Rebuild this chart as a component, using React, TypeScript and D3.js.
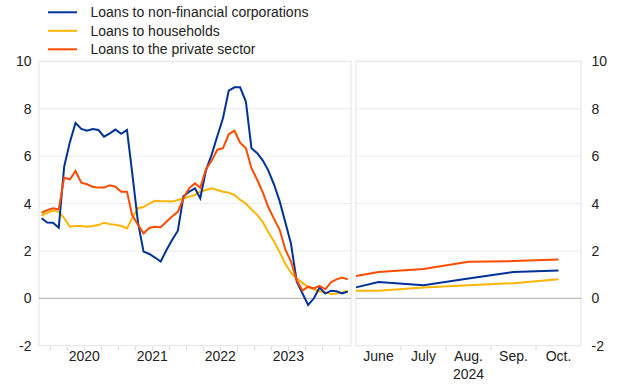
import { useEffect, useRef } from "react";
import * as d3 from "d3";

const W = 620;
const H = 387;

// monthly observations, Nov 2019 - May 2024
const months = d3.timeMonths(new Date(2019, 10, 1), new Date(2024, 5, 1));
const nfc = [
  3.38, 3.2, 3.19, 2.98, 5.55, 6.6, 7.4, 7.15, 7.07, 7.14,
  7.1, 6.82, 6.96, 7.12, 6.94, 7.1, 5.3, 3.2, 1.97, 1.87,
  1.72, 1.55, 2.04, 2.46, 2.85, 4.3, 4.5, 4.64, 4.22, 5.4,
  6.05, 6.85, 7.6, 8.76, 8.9, 8.9, 8.3, 6.33, 6.12, 5.8,
  5.4, 4.8, 4.1, 3.2, 2.3, 0.7, 0.2, -0.28, 0.0, 0.45,
  0.2, 0.32, 0.3, 0.21, 0.28,
];
const households = [
  3.49, 3.61, 3.7, 3.65, 3.38, 3.02, 3.05, 3.05, 3.02, 3.05,
  3.09, 3.19, 3.13, 3.1, 3.05, 2.95, 3.38, 3.8, 3.85, 4.0,
  4.12, 4.1, 4.1, 4.08, 4.15, 4.22, 4.29, 4.36, 4.5, 4.57,
  4.64, 4.57, 4.5, 4.46, 4.36, 4.15, 4.0, 3.75, 3.52, 3.2,
  2.8, 2.4, 1.95, 1.45, 1.08, 0.82, 0.65, 0.47, 0.38, 0.3,
  0.25, 0.18, 0.2, 0.25, 0.32,
];
const privateSector = [
  3.61, 3.72, 3.8, 3.75, 5.09, 5.02, 5.37, 4.88, 4.81, 4.71,
  4.67, 4.67, 4.77, 4.71, 4.5, 4.5, 3.5, 3.1, 2.74, 2.97,
  3.02, 3.0, 3.23, 3.45, 3.65, 4.22, 4.65, 4.85, 4.66, 5.45,
  5.8, 6.27, 6.33, 6.92, 7.07, 6.57, 6.33, 5.49, 4.99, 4.45,
  3.85, 3.35, 2.9, 2.05, 1.55, 0.75, 0.33, 0.49, 0.42, 0.52,
  0.38, 0.68, 0.8, 0.88, 0.8,
];

// 2024 panel: month number (first point = end of May)
const recentMonths = [5.5, 6, 7, 8, 9, 10];
const recentNfc = [0.46, 0.69, 0.55, 0.84, 1.11, 1.17];
const recentHouseholds = [0.32, 0.32, 0.46, 0.55, 0.64, 0.8];
const recentPrivate = [0.94, 1.11, 1.24, 1.54, 1.57, 1.64];
const recentLabels = ["June", "July", "Aug.", "Sep.", "Oct."];
const recentLabelMonths = [6, 7, 8, 9, 10];

const yTicks = [-2, 0, 2, 4, 6, 8, 10];
const yearLabels = [2020, 2021, 2022, 2023];

const seriesNames = [
  "Loans to non-financial corporations",
  "Loans to households",
  "Loans to the private sector",
];
const colors = ["#003299", "#ffb400", "#ff4b00"];

const FONT = "'Liberation Sans', Arial, sans-serif";

export default function App() {
  const svgRef = useRef<SVGSVGElement>(null);

  useEffect(() => {
    if (!svgRef.current) return;
    const svg = d3.select(svgRef.current);
    svg.selectAll("*").remove();

    const top = 61.3;
    const bottom = 345.7;
    const y = d3.scaleLinear().domain([-2, 10]).range([bottom, top]);

    const x1 = d3
      .scaleTime()
      .domain([new Date(2019, 10, 1), new Date(2024, 5, 1)])
      .range([39, 351]);
    const x2 = d3.scaleLinear().domain([5.5, 10.5]).range([356, 581]);

    const panels = [
      { l: 39, r: 351 },
      { l: 356, r: 581 },
    ];

    panels.forEach((p) => {
      const g = svg.append("g");
      g.selectAll(".grid")
        .data(yTicks.filter((t) => t !== 0 && t !== 10 && t !== -2))
        .enter()
        .append("line")
        .attr("x1", p.l)
        .attr("x2", p.r)
        .attr("y1", (d) => y(d))
        .attr("y2", (d) => y(d))
        .attr("stroke", "#ebebeb")
        .attr("stroke-width", 1);
      g.append("rect")
        .attr("x", p.l)
        .attr("y", top)
        .attr("width", p.r - p.l)
        .attr("height", bottom - top)
        .attr("fill", "none")
        .attr("stroke", "#e3e3e3")
        .attr("stroke-width", 1);
      g.append("line")
        .attr("x1", p.l)
        .attr("x2", p.r)
        .attr("y1", y(0))
        .attr("y2", y(0))
        .attr("stroke", "#aaaaaa")
        .attr("stroke-width", 1);
    });

    // x ticks
    const qTicks = d3.timeMonths(new Date(2020, 0, 1), new Date(2024, 5, 1), 3);
    svg
      .selectAll(".qtick")
      .data(qTicks)
      .enter()
      .append("line")
      .attr("x1", (d) => x1(d))
      .attr("x2", (d) => x1(d))
      .attr("y1", bottom + 1)
      .attr("y2", bottom + 5)
      .attr("stroke", "#d6d6d6");
    svg
      .selectAll(".mtick")
      .data([6.5, 7.5, 8.5, 9.5])
      .enter()
      .append("line")
      .attr("x1", (d) => x2(d))
      .attr("x2", (d) => x2(d))
      .attr("y1", bottom + 1)
      .attr("y2", bottom + 5)
      .attr("stroke", "#d6d6d6");

    const text = (sel: any) =>
      sel.attr("font-family", FONT).attr("font-size", 14).attr("fill", "#222");

    svg
      .selectAll(".year")
      .data(yearLabels)
      .enter()
      .append("text")
      .call(text)
      .attr("x", (d) => x1(new Date(d, 6, 1)))
      .attr("y", 361)
      .attr("text-anchor", "middle")
      .text((d) => d);
    svg
      .selectAll(".month")
      .data(recentLabels)
      .enter()
      .append("text")
      .call(text)
      .attr("x", (_, i) => x2(recentLabelMonths[i]))
      .attr("y", 361)
      .attr("text-anchor", "middle")
      .text((d) => d);
    svg
      .append("text")
      .call(text)
      .attr("x", x2(8))
      .attr("y", 379)
      .attr("text-anchor", "middle")
      .text("2024");

    // y labels
    svg
      .selectAll(".yl")
      .data(yTicks)
      .enter()
      .append("text")
      .call(text)
      .attr("x", 31.5)
      .attr("y", (d) => y(d) + 5)
      .attr("text-anchor", "end")
      .text((d) => d);
    svg
      .selectAll(".yr")
      .data(yTicks)
      .enter()
      .append("text")
      .call(text)
      .attr("x", 591.5)
      .attr("y", (d) => y(d) + 5)
      .attr("text-anchor", "start")
      .text((d) => d);

    // lines
    const line1 = d3
      .line<number>()
      .x((_, i) => x1(d3.timeDay.offset(months[i], 14)))
      .y((d) => y(d));
    const line2 = d3
      .line<number>()
      .x((_, i) => x2(recentMonths[i]))
      .y((d) => y(d));

    const hist = [nfc, households, privateSector];
    const recent = [recentNfc, recentHouseholds, recentPrivate];
    [1, 0, 2].forEach((k) => {
      svg
        .append("path")
        .attr("d", line1(hist[k]))
        .attr("fill", "none")
        .attr("stroke", colors[k])
        .attr("stroke-width", 2);
      svg
        .append("path")
        .attr("d", line2(recent[k]))
        .attr("fill", "none")
        .attr("stroke", colors[k])
        .attr("stroke-width", 2);
    });

    // legend
    const leg = svg
      .selectAll(".leg")
      .data(seriesNames)
      .enter()
      .append("g")
      .attr("transform", (_, i) => `translate(0,${12.3 + i * 18.5})`);
    leg
      .append("line")
      .attr("x1", 48)
      .attr("x2", 77)
      .attr("stroke", (_, i) => colors[i])
      .attr("stroke-width", 2);
    leg
      .append("text")
      .call(text)
      .attr("x", 90.5)
      .attr("y", 5)
      .text((d) => d);
  }, []);

  return (
    <svg
      ref={svgRef}
      width={W}
      height={H}
      style={{ position: "absolute", left: 0, top: 0, background: "#fff" }}
    />
  );
}
